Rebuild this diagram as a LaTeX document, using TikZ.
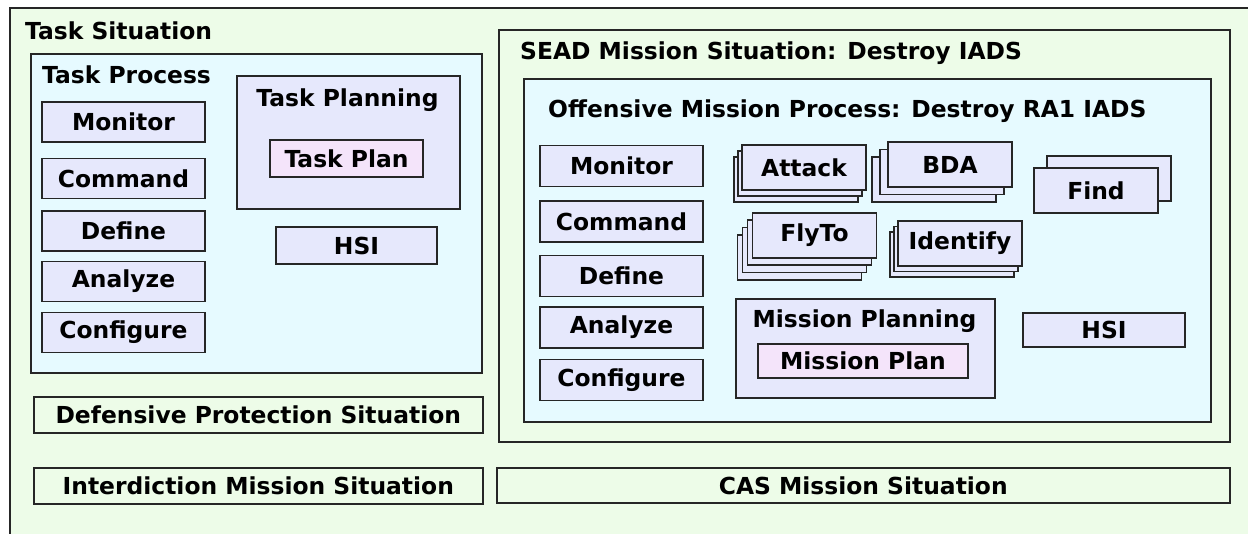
\documentclass[tikz,border=0pt]{standalone}
\usepackage{fontspec}
\setmainfont{DejaVu Sans}
\usetikzlibrary{positioning,calc}

\definecolor{sitgreen}{HTML}{EDFCE8}
\definecolor{proccyan}{HTML}{E6FAFF}
\definecolor{fnblue}{HTML}{E6E8FC}
\definecolor{planpink}{HTML}{F4E4FA}

\begin{document}
\begin{tikzpicture}[x=1pt,y=-1pt,
    every node/.style={font=\fontsize{23.4}{28}\selectfont\bfseries},
    frame/.style={draw=black!85,line width=1.6pt,inner sep=0pt,anchor=north west},
    sit box/.style={frame,fill=sitgreen},
    proc box/.style={frame,fill=proccyan},
    fn box/.style={draw=black!85,line width=1.6pt,fill=fnblue,inner sep=0pt,
                   minimum width=163pt,minimum height=40pt},
    plan box/.style={fn box,fill=planpink},
    stack/.style={fn box,minimum width=124pt,minimum height=45pt},
    title/.style={anchor=west,inner sep=0pt}]
\useasboundingbox (0,0) rectangle (1248,534);
\clip (0,0) rectangle (1248,534);
%Situations
    \node[sit box,minimum width=1260pt,minimum height=540pt] (tasksit) at (9,7) {};
    \node[title] (tasksit-t) at (25,31) {Task Situation};
    \node[sit box,minimum width=449pt,minimum height=36pt] (defsit) at (33,396) {};
    \node (defsit-t) at (defsit.center) {Defensive Protection Situation};
    \node[sit box,minimum width=449pt,minimum height=36pt] (intsit) at (33,467) {};
    \node (intsit-t) at (intsit.center) {Interdiction Mission Situation};
    \node[sit box,minimum width=733pt,minimum height=35pt] (cassit) at (496,467) {};
    \node (cassit-t) at (cassit.center) {CAS Mission Situation};
    \node[sit box,minimum width=731pt,minimum height=412pt] (seadsit) at (498,29) {};
    \node[title] (seadsit-t) at (520,53) {SEAD Mission Situation: Destroy IADS};
%Task process
    \node[proc box,minimum width=451pt,minimum height=319pt] (taskproc) at (30,53) {};
    \node[title] (taskproc-t) at (42,75) {Task Process};
    \foreach \name/\y in {Monitor/122,Command/178.5,Define/231,Analyze/281.5,Configure/332.5}
        \node[fn box] (task-\name) at (123.5,\y) {\name};
    \node[frame,fill=fnblue,minimum width=223pt,minimum height=133pt] (taskplanning) at (236,75) {};
    \node (taskplanning-t) at (347.5,100) {Task Planning};
    \node[plan box,minimum width=153pt,minimum height=37pt] (taskplan) at (346.5,158.5) {Task Plan};
    \node[fn box,minimum width=161pt,minimum height=37pt] (task-hsi) at (356.5,245.5) {HSI};
%Offensive mission process
    \node[proc box,minimum width=687pt,minimum height=343pt] (offproc) at (523,78) {};
    \node[title] (offproc-t) at (548,111) {Offensive Mission Process: Destroy RA1 IADS};
    \foreach \name/\y in {Monitor/166,Command/221.5,Define/276,Analyze/327.5,Configure/380}
        \node[fn box,minimum height=41pt] (mis-\name) at (621.5,\y) {\name};
    \foreach \name/\cx/\cy/\dx/\dy/\layers/\txt in
        {attack/804/167.5/-4/6/2/Attack, bda/950/164.5/-8/7.5/2/BDA,
         flyto/814.5/235.5/-5/7.3/3/FlyTo, identify/960/243.5/-4/5.5/2/Identify}{
        \foreach \k in {\layers,...,1}
            \node[stack] (\name-\k) at ({\cx+\k*(\dx)},{\cy+\k*(\dy)}) {};
        \node[stack] (\name) at (\cx,\cy) {\txt};
    }
    \node[stack] (find-1) at (1109,178.5) {};
    \node[stack] (find) at (1096,190.5) {Find};
    \node[frame,fill=fnblue,minimum width=259pt,minimum height=99pt] (misplanning) at (735,298) {};
    \node (misplanning-t) at (864.5,321) {Mission Planning};
    \node[plan box,minimum width=210pt,minimum height=34pt] (misplan) at (863,361) {Mission Plan};
    \node[fn box,minimum width=162pt,minimum height=34pt] (mis-hsi) at (1104,330) {HSI};
\end{tikzpicture}
\end{document}
